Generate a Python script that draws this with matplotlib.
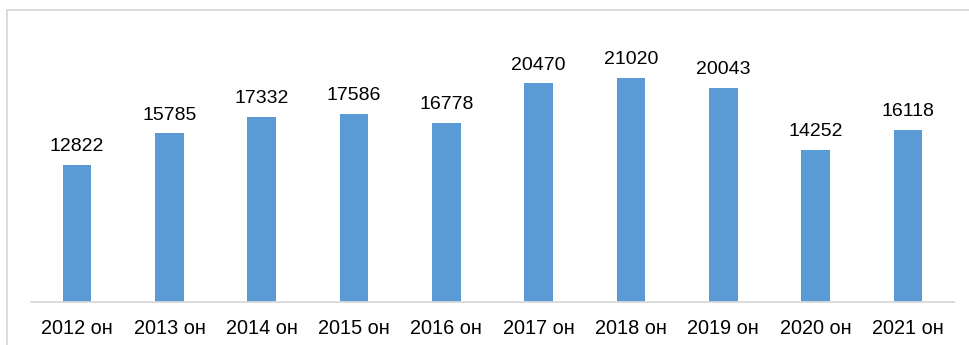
import matplotlib
matplotlib.use("Agg")
import matplotlib.pyplot as plt
from matplotlib.patches import Rectangle

years = ["2012 он", "2013 он", "2014 он", "2015 он", "2016 он",
         "2017 он", "2018 он", "2019 он", "2020 он", "2021 он"]
values = [12822, 15785, 17332, 17586, 16778, 20470, 21020, 20043, 14252, 16118]

plt.rcParams['font.family'] = ['Liberation Sans', 'DejaVu Sans']

W, H = 969, 345
fig = plt.figure(figsize=(W / 100, H / 100), dpi=100)

# light frame around the chart area
fig.patches.append(Rectangle((7 / W, -0.1), 1.1, (H - 10) / H + 0.1,
                             transform=fig.transFigure, fill=False,
                             edgecolor="#d9d9d9", linewidth=1.3))

ax = fig.add_axes([31 / W, (H - 302) / H, 923 / W, 267 / H])
x = range(len(years))
ax.bar(x, values, width=0.31, color="#5b9bd5")
ax.set_xlim(-0.5, len(years) - 0.5)
ax.set_ylim(0, 25000)

for xi, v in zip(x, values):
    ax.annotate(str(v), (xi, v), xytext=(0, 7), textcoords="offset points",
                ha="center", va="bottom", fontsize=14, color="#000000")

ax.set_xticks(list(x))
ax.set_xticklabels(years, fontsize=14.3)
ax.tick_params(axis="x", length=0, pad=12)
ax.set_yticks([])
for s in ["top", "right", "left"]:
    ax.spines[s].set_visible(False)
ax.spines["bottom"].set_color("#d9d9d9")
ax.spines["bottom"].set_linewidth(1.3)

fig.savefig("out.png", dpi=100)
